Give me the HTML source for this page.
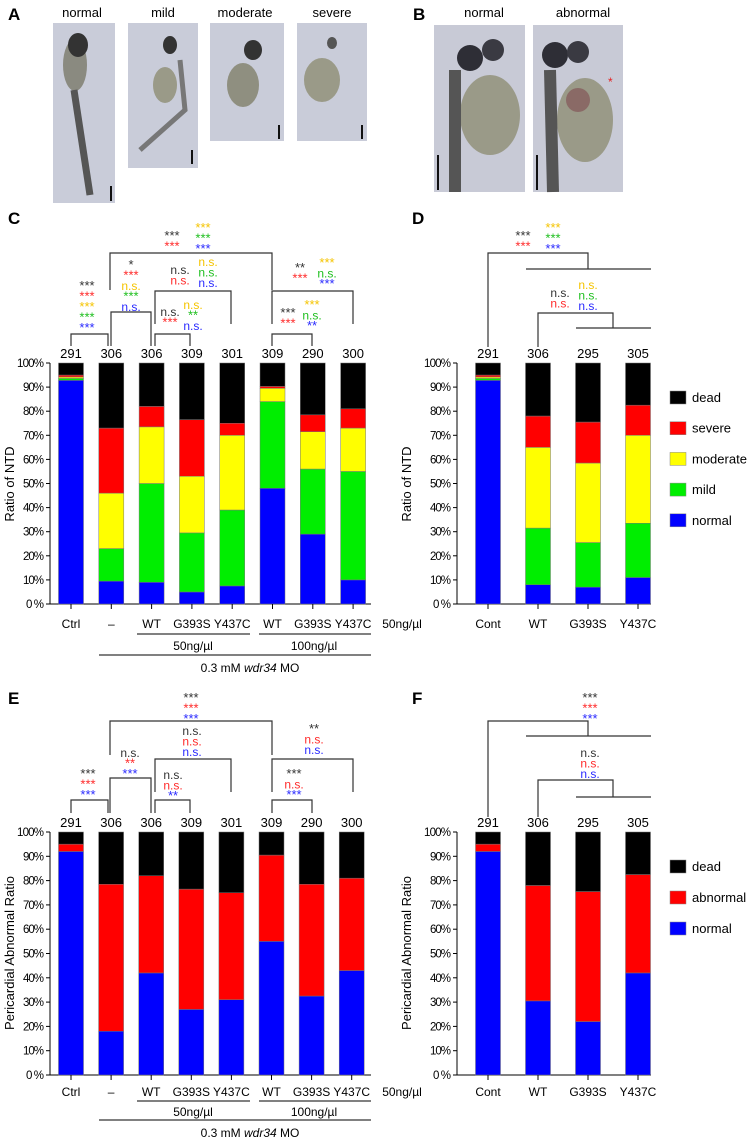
<!DOCTYPE html>
<html><head><meta charset="utf-8"><style>
html,body{margin:0;padding:0;background:#fff;}
svg{display:block;font-family:"Liberation Sans",Arial,sans-serif;}
</style></head><body>
<svg id="fig" width="747" height="1138" viewBox="0 0 747 1138" xmlns="http://www.w3.org/2000/svg">
<g id="photos">
<text x="8" y="20" font-size="17" font-weight="bold">A</text>
<text x="413" y="20" font-size="17" font-weight="bold">B</text>
<text x="82" y="17" font-size="13" text-anchor="middle">normal</text>
<text x="163" y="17" font-size="13" text-anchor="middle">mild</text>
<text x="245" y="17" font-size="13" text-anchor="middle">moderate</text>
<text x="332" y="17" font-size="13" text-anchor="middle">severe</text>
<text x="484" y="17" font-size="13" text-anchor="middle">normal</text>
<text x="583" y="17" font-size="13" text-anchor="middle">abnormal</text>
<g><rect x="53" y="23" width="62" height="180" fill="#c9ccd9"/><ellipse cx="75" cy="65" rx="12" ry="26" fill="#8a8a80"/><ellipse cx="78" cy="45" rx="10" ry="12" fill="#333"/><path d="M74 90 L90 195" stroke="#555" stroke-width="7"/><rect x="110" y="186" width="2" height="15" fill="#111"/></g>
<g><rect x="128" y="23" width="70" height="145" fill="#c9ccd9"/><ellipse cx="165" cy="85" rx="12" ry="18" fill="#9a9a88"/><ellipse cx="170" cy="45" rx="7" ry="9" fill="#333"/><path d="M180 60 L185 110 L140 150" stroke="#777" stroke-width="5" fill="none"/><rect x="191" y="150" width="2" height="14" fill="#111"/></g>
<g><rect x="210" y="23" width="74" height="118" fill="#c9ccd9"/><ellipse cx="243" cy="85" rx="16" ry="22" fill="#8f8f80"/><ellipse cx="253" cy="50" rx="9" ry="10" fill="#333"/><rect x="278" y="125" width="2" height="14" fill="#111"/></g>
<g><rect x="297" y="23" width="70" height="118" fill="#c9ccd9"/><ellipse cx="322" cy="80" rx="18" ry="22" fill="#9a9a88"/><ellipse cx="332" cy="43" rx="5" ry="6" fill="#555"/><rect x="361" y="125" width="2" height="14" fill="#111"/></g>
<g><rect x="434" y="25" width="91" height="167" fill="#c8cad6"/><ellipse cx="490" cy="115" rx="30" ry="40" fill="#9a9a88"/><circle cx="470" cy="58" r="13" fill="#2e2e36"/><circle cx="493" cy="50" r="11" fill="#3a3a42"/><path d="M455 70 L455 192" stroke="#555" stroke-width="12"/><rect x="437" y="155" width="2" height="35" fill="#111"/></g>
<g><rect x="533" y="25" width="90" height="167" fill="#c8cad6"/><ellipse cx="585" cy="120" rx="28" ry="42" fill="#9a9a88"/><ellipse cx="578" cy="100" rx="12" ry="12" fill="#8a6a66"/><circle cx="555" cy="55" r="13" fill="#2e2e36"/><circle cx="578" cy="52" r="11" fill="#3a3a42"/><path d="M550 70 L553 192" stroke="#555" stroke-width="12"/><text x="608" y="86" font-size="12" fill="#e52222">*</text><rect x="536" y="155" width="2" height="35" fill="#111"/></g>
</g>
<g id="charts"></g>
</svg>
<script>
// ===== Data =====
const cCategories = ["Ctrl","–","WT","G393S","Y437C","WT","G393S","Y437C"];
const cCounts = [291,306,306,309,301,309,290,300];
const cNormal = [92.8,9.5,9,5,7.5,48,29,10];
const cMild = [0.8,13.5,41,24.5,31.5,36,27,45];
const cModerate = [0.6,23,23.5,23.5,31,5.5,15.5,18];
const cSevere = [0.8,27,8.5,23.5,5,0.8,7,8];

const dCategories = ["Cont","WT","G393S","Y437C"];
const dCounts = [291,306,295,305];
const dNormal = [92.8,8,7,11];
const dMild = [0.8,23.5,18.5,22.5];
const dModerate = [0.6,33.5,33,36.5];
const dSevere = [0.8,13,17,12.5];

const eCategories = ["Ctrl","–","WT","G393S","Y437C","WT","G393S","Y437C"];
const eCounts = [291,306,306,309,301,309,290,300];
const eNormal = [92,18,42,27,31,55,32.5,43];
const eAbnormal = [3,60.5,40,49.5,44,35.5,46,38];

const fCategories = ["Cont","WT","G393S","Y437C"];
const fCounts = [291,306,295,305];
const fNormal = [92,30.5,22,42];
const fAbnormal = [3,47.5,53.5,40.5];

const yTicks = [0,10,20,30,40,50,60,70,80,90,100];

const COL = {dead:"#000000",severe:"#ff0000",moderate:"#ffff00",mild:"#00ee00",normal:"#0000ff",abnormal:"#ff0000"};
const SIG = {k:"#333333",r:"#ff2a2a",y:"#f5c400",g:"#1fbf1f",b:"#2a2aff"};
const NS="http://www.w3.org/2000/svg";
const root=document.getElementById('charts');
function mk(tag,attrs,parent){const e=document.createElementNS(NS,tag);for(const k in attrs)e.setAttribute(k,attrs[k]);(parent||root).appendChild(e);return e;}
function txt(x,y,s,size,fill,anchor,parent){const t=mk('text',{x:x,y:y,'font-size':size,fill:fill||'#000','text-anchor':anchor||'middle'},parent);t.textContent=s;return t;}

function drawChart(cfg){
  const g=mk('g',{});
  
  
  const y0=cfg.y0, y100=cfg.y100;
  const yScale=v=>y0-(v/100)*(y0-y100);
  const xScale=i=>cfg.x0+i*cfg.step;
  const ax=mk('g',{},g);
  
  
  mk('line',{x1:cfg.axisX,y1:yScale(0),x2:cfg.axisX,y2:yScale(100),stroke:'#000','stroke-width':1},ax);
  mk('line',{x1:cfg.axisX,y1:yScale(0),x2:cfg.xEnd,y2:yScale(0),stroke:'#000','stroke-width':1},ax);
  yTicks.forEach(v=>{
    mk('line',{x1:cfg.axisX-4,y1:yScale(v),x2:cfg.axisX,y2:yScale(v),stroke:'#000'},ax);
    const t=txt(cfg.axisX-6,yScale(v)+4,v===0?'0 %':v+'%',11.5,'#000','end',ax);
    t.setAttribute('textLength', v===100?27:(v===0?18:21));
    
    
  });
  const yt=txt(0,0,cfg.yTitle,13,'#000','middle',g);
  yt.setAttribute('transform','translate('+cfg.titleX+','+cfg.titleY+') rotate(-90)');
  
  
  cfg.cats.forEach((c,i)=>{
    const x=xScale(i);
    let cum=0;
    cfg.series.forEach(s=>{
      const v=s.vals[i];
      const r=mk('rect',{x:x-12.5,y:yScale(cum+v),width:25,height:yScale(cum)-yScale(cum+v),fill:s.color,stroke:'#777','stroke-width':0.5},g);
      
      
      cum+=v;
    });
    const d=mk('rect',{x:x-12.5,y:yScale(100),width:25,height:yScale(cum)-yScale(100),fill:COL.dead,stroke:'#777','stroke-width':0.5},g);
    
    
    mk('line',{x1:x,y1:yScale(0),x2:x,y2:yScale(0)+5,stroke:'#000'},g);
    const n=txt(x,yScale(100)-5,String(cfg.counts[i]),13,'#000','middle',g);
    
    
    const l=txt(x,cfg.labelY,c,12,'#000','middle',g);
    
    
  });
  return g;
}

function sigStack(x,y,items,g){
  items.forEach((it,k)=>{
    const t=txt(x,y+k*10.5,it[0],it[0].indexOf('*')>=0?13:12,SIG[it[1]],'middle',g);
    
    
  });
}
function path(d,g){const p=mk('path',{d:d,stroke:'#333','stroke-width':1.2,fill:'none'},g);return p;}

// ===== Panel C =====
const gC=drawChart({name:'chart-c',cats:cCategories,counts:cCounts,x0:71,step:40.3,y0:604,y100:363,axisX:50,xEnd:371,labelY:628,yTitle:'Ratio of NTD',titleX:14,titleY:484,
  series:[{key:'normal',vals:cNormal,color:COL.normal},{key:'mild',vals:cMild,color:COL.mild},{key:'moderate',vals:cModerate,color:COL.moderate},{key:'severe',vals:cSevere,color:COL.severe}]});
path('M71 346 V334 H108 V346',gC);
path('M111 346 V312 H151 V346',gC);
path('M110 290 V253 H272 V290',gC);
path('M155 346 V334 H190 V346',gC);
path('M155 324 V291 H231 V324',gC);
path('M272 346 V334 H312 V346',gC);
path('M272 324 V291 H353 V324',gC);
sigStack(87,290,[['***','k'],['***','r'],['***','y'],['***','g'],['***','b']],gC);
sigStack(131,269,[['*','k'],['***','r'],['n.s.','y'],['***','g'],['n.s.','b']],gC);
sigStack(172,240,[['***','k'],['***','r']],gC);
sigStack(203,232,[['***','y'],['***','g'],['***','b']],gC);
sigStack(170,316,[['n.s.','k'],['***','r']],gC);
sigStack(193,309,[['n.s.','y'],['**','g'],['n.s.','b']],gC);
sigStack(180,274,[['n.s.','k'],['n.s.','r']],gC);
sigStack(208,266,[['n.s.','y'],['n.s.','g'],['n.s.','b']],gC);
sigStack(288,317,[['***','k'],['***','r']],gC);
sigStack(312,309,[['***','y'],['n.s.','g'],['**','b']],gC);
sigStack(300,272,[['**','k'],['***','r']],gC);
sigStack(327,267,[['***','y'],['n.s.','g'],['***','b']],gC);
mk('line',{x1:137,y1:634,x2:250,y2:634,stroke:'#000'},gC);
mk('line',{x1:259,y1:634,x2:371,y2:634,stroke:'#000'},gC);
mk('line',{x1:99,y1:655,x2:371,y2:655,stroke:'#000'},gC);
txt(193,650,'50ng/µl',12,'#000','middle',gC);
txt(314,650,'100ng/µl',12,'#000','middle',gC);
(function(){const t=mk('text',{x:250,y:672,'font-size':12,'text-anchor':'middle'},gC);t.innerHTML='0.3 mM <tspan font-style="italic">wdr34</tspan> MO';})();
txt(8,224,'C',17,'#000','start',gC).setAttribute('font-weight','bold');

// ===== Panel D =====
const gD=drawChart({name:'chart-d',cats:dCategories,counts:dCounts,x0:488,step:50,y0:604,y100:363,axisX:457,xEnd:651,labelY:628,yTitle:'Ratio of NTD',titleX:411,titleY:484,
  series:[{key:'normal',vals:dNormal,color:COL.normal},{key:'mild',vals:dMild,color:COL.mild},{key:'moderate',vals:dModerate,color:COL.moderate},{key:'severe',vals:dSevere,color:COL.severe}]});
txt(402,628,'50ng/µl',12,'#000','middle',gD);
path('M488 347 V253 H588 V269',gD);
path('M526 269 H651',gD);
path('M538 347 V313 H613 V328',gD);
path('M576 328 H651',gD);
sigStack(523,240,[['***','k'],['***','r']],gD);
sigStack(553,232,[['***','y'],['***','g'],['***','b']],gD);
sigStack(560,297,[['n.s.','k'],['n.s.','r']],gD);
sigStack(588,289,[['n.s.','y'],['n.s.','g'],['n.s.','b']],gD);
txt(412,224,'D',17,'#000','start',gD).setAttribute('font-weight','bold');
[['dead',COL.dead],['severe',COL.severe],['moderate',COL.moderate],['mild',COL.mild],['normal',COL.normal]].forEach((l,k)=>{
  const lg=mk('g',{},gD);
  
  
  const y=397+k*30.7;
  mk('rect',{x:670,y:y-6,width:16,height:13,fill:l[1],stroke:'#888','stroke-width':0.5},lg);
  txt(692,y+5,l[0],13,'#000','start',lg);
});

// ===== Panel E =====
const gE=drawChart({name:'chart-e',cats:eCategories,counts:eCounts,x0:71,step:40.1,y0:1075,y100:832,axisX:50,xEnd:371,labelY:1096,yTitle:'Pericardial Abnormal Ratio',titleX:14,titleY:953,
  series:[{key:'normal',vals:eNormal,color:COL.normal},{key:'abnormal',vals:eAbnormal,color:COL.abnormal}]});
path('M71 813 V800 H108 V813',gE);
path('M110 813 V778 H151 V813',gE);
path('M110 755 V721 H272 V755',gE);
path('M155 813 V800 H190 V813',gE);
path('M155 792 V759 H231 V792',gE);
path('M272 813 V800 H312 V813',gE);
path('M272 792 V759 H353 V792',gE);
sigStack(88,778,[['***','k'],['***','r'],['***','b']],gE);
sigStack(130,757,[['n.s.','k'],['**','r'],['***','b']],gE);
sigStack(191,702,[['***','k'],['***','r'],['***','b']],gE);
sigStack(173,779,[['n.s.','k'],['n.s.','r'],['**','b']],gE);
sigStack(192,735,[['n.s.','k'],['n.s.','r'],['n.s.','b']],gE);
sigStack(294,778,[['***','k'],['n.s.','r'],['***','b']],gE);
sigStack(314,733,[['**','k'],['n.s.','r'],['n.s.','b']],gE);
mk('line',{x1:137,y1:1101,x2:250,y2:1101,stroke:'#000'},gE);
mk('line',{x1:259,y1:1101,x2:371,y2:1101,stroke:'#000'},gE);
mk('line',{x1:99,y1:1120,x2:371,y2:1120,stroke:'#000'},gE);
txt(193,1116,'50ng/µl',12,'#000','middle',gE);
txt(314,1116,'100ng/µl',12,'#000','middle',gE);
(function(){const t=mk('text',{x:250,y:1137,'font-size':12,'text-anchor':'middle'},gE);t.innerHTML='0.3 mM <tspan font-style="italic">wdr34</tspan> MO';})();
txt(8,704,'E',17,'#000','start',gE).setAttribute('font-weight','bold');

// ===== Panel F =====
const gF=drawChart({name:'chart-f',cats:fCategories,counts:fCounts,x0:488,step:50,y0:1075,y100:832,axisX:457,xEnd:651,labelY:1096,yTitle:'Pericardial Abnormal Ratio',titleX:411,titleY:953,
  series:[{key:'normal',vals:fNormal,color:COL.normal},{key:'abnormal',vals:fAbnormal,color:COL.abnormal}]});
txt(402,1096,'50ng/µl',12,'#000','middle',gF);
path('M488 817 V721 H588 V736',gF);
path('M526 736 H651',gF);
path('M538 817 V780 H613 V797',gF);
path('M576 797 H651',gF);
sigStack(590,702,[['***','k'],['***','r'],['***','b']],gF);
sigStack(590,757,[['n.s.','k'],['n.s.','r'],['n.s.','b']],gF);
txt(412,704,'F',17,'#000','start',gF).setAttribute('font-weight','bold');
[['dead',COL.dead],['abnormal',COL.abnormal],['normal',COL.normal]].forEach((l,k)=>{
  const lg=mk('g',{},gF);
  
  
  const y=866+k*31;
  mk('rect',{x:670,y:y-6,width:16,height:13,fill:l[1],stroke:'#888','stroke-width':0.5},lg);
  txt(692,y+5,l[0],13,'#000','start',lg);
});
</script>
</body></html>
